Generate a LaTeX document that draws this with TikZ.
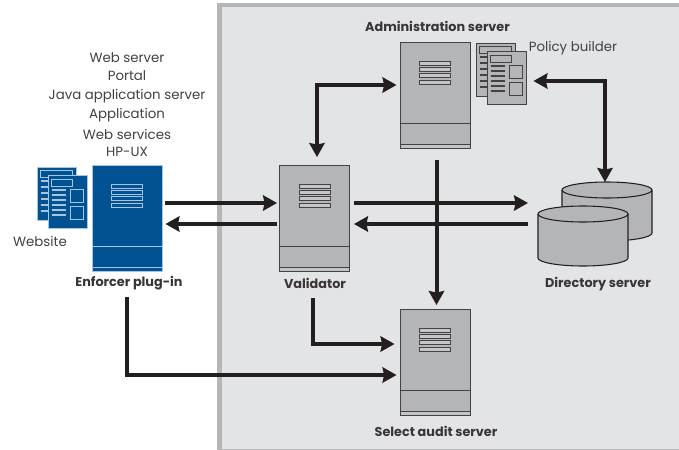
\documentclass[tikz,border=0pt]{standalone}
\usepackage{fontspec}
\setmainfont{Poppins}
\usetikzlibrary{arrows.meta,calc}
\definecolor{panel}{HTML}{E3E4E6}
\definecolor{panelb}{HTML}{B5B6B8}
\definecolor{srvfill}{HTML}{B4B5B8}
\definecolor{srvlite}{HTML}{C4C5C7}
\definecolor{ink}{HTML}{231F20}
\definecolor{hpblue}{HTML}{005293}
\definecolor{bluel}{HTML}{A9C4DE}
\tikzset{
  srvbox/.style={minimum width=52.5pt,minimum height=79.5pt,inner sep=0pt,line width=.7pt},
  txt/.style={text=ink!85!white,font=\fontsize{10pt}{11pt}\selectfont,inner sep=0pt},
  btxt/.style={text=ink!90!white,font=\fontsize{9.6pt}{11pt}\selectfont\bfseries,inner sep=0pt},
  arr/.style={line width=3pt,draw=ink,miter limit=10},
  fwd/.style={arr,-{Stealth[length=10.5pt,width=11.5pt,inset=1.2pt]}},
  both/.style={arr,{Stealth[length=10.5pt,width=11.5pt,inset=1.2pt]}-{Stealth[length=10.5pt,width=11.5pt,inset=1.2pt]}},
}
% name, centre x, top y, fill, line, vent fill
\newcommand\serverbox[6]{%
  \node[srvbox,fill=#4,draw=#5] (#1) at (#2,#3+52.5) {};
  \begin{scope}[shift={(#2,#3)},line width=.7pt]
    \draw[#5] (-35,80) -- (35,80);
    \draw[#5,fill=#6] (-35,101) rectangle (35,105);
    \foreach \v in {18,24.4,30.8,37.2}{
      \draw[#5,fill=#6,line width=.6pt] (-15.5,\v) rectangle (15.5,\v+4);
    }
  \end{scope}
}
% name, back left x, back top y, fill, line
\newcommand\docpair[5]{%
  \begin{scope}[shift={(#2,#3)},line width=.6pt]
    \node[draw=#5,fill=#4,minimum width=29pt,minimum height=39.5pt,inner sep=0pt,anchor=north west,line width=.6pt] (#1b) at (0,0) {};
    \draw[#5] (3.5,3.5) rectangle (35,10);
    \foreach \v in {14,20,26,32,38,44}{\draw[#5,line width=.8pt] (3.5,\v) -- (11,\v);}
    \node[draw=#5,fill=#4,minimum width=29pt,minimum height=40pt,inner sep=0pt,anchor=north west,line width=.6pt] (#1) at (11,8) {};
    \draw[#5] (14.5,12) rectangle (35.5,19.5);
    \foreach \v in {23,28,33,38,43,48}{\draw[#5,line width=.8pt] (14.5,\v) -- (29,\v);}
    \draw[#5] (33,22) rectangle (46,35);
    \draw[#5] (33,39) rectangle (46,52);
  \end{scope}
}
% left x, right x, ellipse centre y, side bottom y
\newcommand\cyl[4]{%
  \pgfmathsetmacro\rx{(#2-#1)/2}
  \draw[ink,fill=srvfill,line width=.8pt] (#1,#3) -- (#1,#4) arc[start angle=180,end angle=0,x radius=\rx,y radius=8] -- (#2,#3)
     arc[start angle=0,end angle=-180,x radius=\rx,y radius=8] -- cycle;
  \draw[ink,line width=.8pt] (#1,#3) arc[start angle=180,end angle=0,x radius=\rx,y radius=8];
}
\begin{document}
\begin{tikzpicture}[x=.75pt,y=-.75pt]
\useasboundingbox (0,0) rectangle (679,450);
\fill[white] (0,0) rectangle (679,450);
\fill[panel] (217,3) rectangle (679,450);
\fill[panelb] (217,3) rectangle (679,7);
\fill[panelb] (217,3) rectangle (222,450);
\fill[panelb] (217,449) rectangle (679,450);

\serverbox{enf}{127}{166}{hpblue}{bluel}{hpblue}
\serverbox{val}{314.5}{166}{srvfill}{ink!85!white}{srvlite}
\serverbox{adm}{435}{43}{srvfill}{ink!85!white}{srvlite}
\serverbox{aud}{435}{310}{srvfill}{ink!85!white}{srvlite}
\docpair{pol}{476}{43}{srvfill}{ink!85!white}
\docpair{web}{37}{167}{hpblue}{bluel}

\cyl{562}{652}{190}{233}
\cyl{538}{628}{214}{258}
\coordinate (dirb) at (605,182);
\coordinate (dirf) at (538,203);
\coordinate (dirg) at (538,224);
\coordinate (c1) at (317,85);
\coordinate (c2) at (605,81);
\coordinate (c3) at (313,344);
\coordinate (c4) at (127,375);

\node[txt] (l1) at (127,58) {Web server};
\node[txt] (l2) at (127,76) {Portal};
\node[txt] (l3) at (127,96) {Java application server};
\node[txt] (l4) at (127,115) {Application};
\node[txt] (l5) at (127,134) {Web services};
\node[txt] (l6) at (127,152) {HP-UX};
\node[txt] (lw) at (40,241) {Website};
\node[txt] (lp) at (573,48) {Policy builder};
\node[btxt] (ladm) at (437.5,26) {Administration server};
\node[btxt] (lenf) at (129,283) {Enforcer plug-in};
\node[btxt] (lval) at (315,283) {Validator};
\node[btxt] (ldir) at (598,284) {Directory server};
\node[btxt] (laud) at (436,431) {Select audit server};

\draw[fwd] ($(enf.east |- 0,203)+(3,0)$) -- ($(val.west |- 0,203)+(-2,0)$);
\draw[fwd] ($(val.west |- 0,224)+(-2,0)$) -- ($(enf.east |- 0,224)+(3,0)$);
\draw[fwd] ($(val.east |- 0,203)+(4,0)$) -- (dirf -| 528,0);
\draw[fwd] (dirg -| 528,0) -- ($(val.east |- 0,224)+(4,0)$);
\draw[fwd] ($(adm.south)+(1.5,11)$) -- ($(aud.north)+(1.5,-4)$);
\draw[both] ($(adm.west |- c1)+(-3,0)$) -- (c1) -- ($(val.north -| c1)+(0,-8)$);
\draw[both] ($(pol.east |- c2)+(7,0)$) -- (c2) -- (dirb);
\draw[fwd] ($(lval.south -| c3)+(0,10)$) -- (c3) -- ($(aud.west |- c3)+(-5,0)$);
\draw[fwd] ($(enf.south -| c4)+(0,25)$) -- (c4) -- ($(aud.west |- c4)+(-3,0)$);
\end{tikzpicture}
\end{document}
